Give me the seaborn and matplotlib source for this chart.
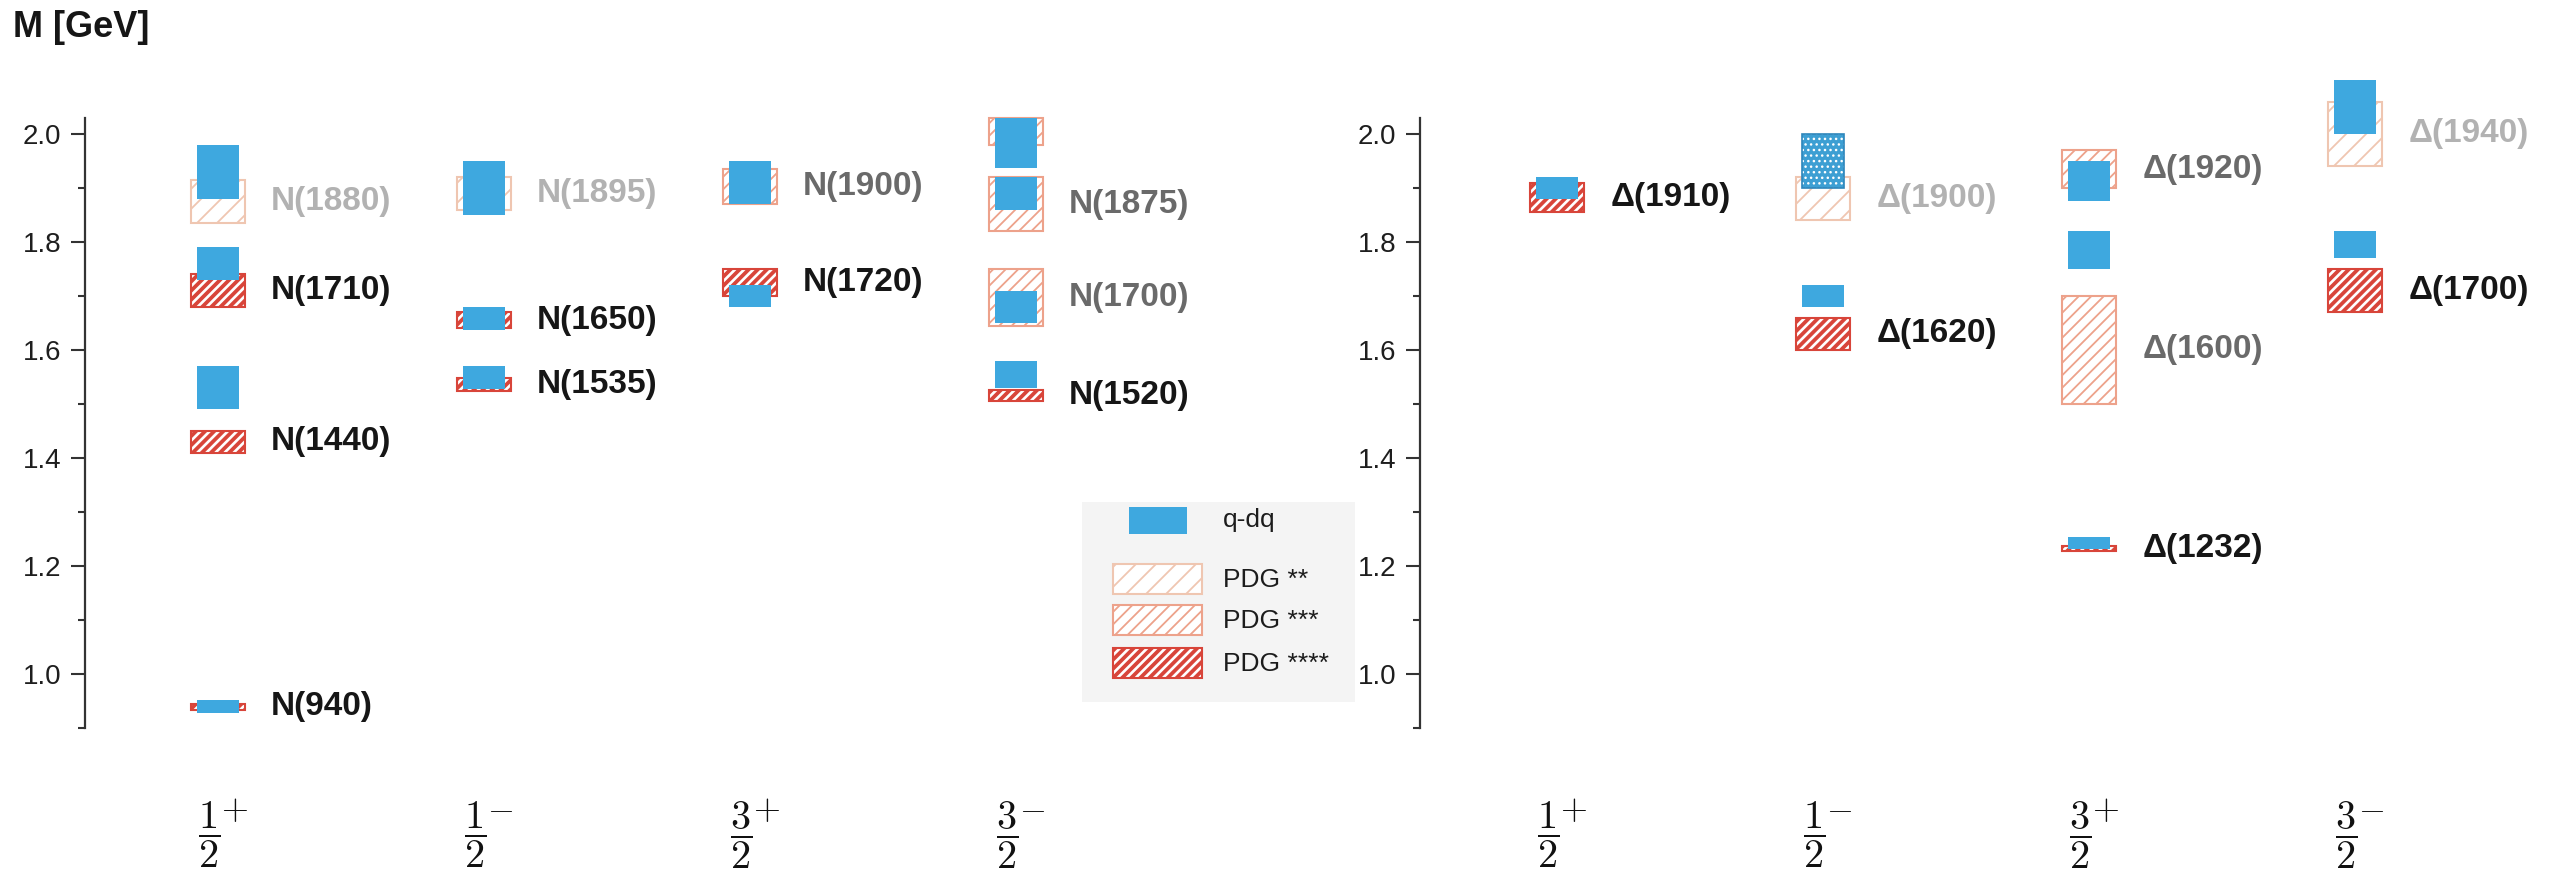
import numpy as np
import matplotlib
matplotlib.use("Agg")
import matplotlib.pyplot as plt
import matplotlib.transforms as mtrans
from matplotlib.patches import Rectangle
import seaborn as sns

# ---------------- data ----------------
spin_num = ["1", "1", "3", "3"]
spin_parity = ["+", "-", "+", "-"]
y_ticks = [1.0, 1.2, 1.4, 1.6, 1.8, 2.0]
y_minor = [0.9, 1.1, 1.3, 1.5, 1.7, 1.9]

# Nucleon panel: PDG ranges
N_pdg_name = ["N(940)", "N(1440)", "N(1710)", "N(1880)", "N(1535)", "N(1650)", "N(1895)",
              "N(1720)", "N(1900)", "N(1520)", "N(1700)", "N(1875)", ""]
N_pdg_col = [0, 0, 0, 0, 1, 1, 1, 2, 2, 3, 3, 3, 3]
N_pdg_low = [0.934, 1.410, 1.680, 1.835, 1.525, 1.640, 1.860, 1.700, 1.870, 1.505, 1.645, 1.820, 1.980]
N_pdg_high = [0.944, 1.450, 1.740, 1.915, 1.548, 1.670, 1.920, 1.750, 1.935, 1.525, 1.750, 1.920, 2.030]
N_pdg_stars = [4, 4, 4, 2, 4, 4, 2, 4, 3, 4, 3, 3, 3]
# Nucleon panel: quark-diquark results
N_qdq_col = [0, 0, 0, 0, 1, 1, 1, 2, 2, 3, 3, 3, 3]
N_qdq_low = [0.928, 1.490, 1.730, 1.880, 1.528, 1.637, 1.850, 1.680, 1.870, 1.530, 1.650, 1.860, 1.937]
N_qdq_high = [0.952, 1.570, 1.790, 1.980, 1.570, 1.680, 1.950, 1.720, 1.950, 1.580, 1.710, 1.920, 2.030]
N_qdq_dotted = [False] * 13

# Delta panel: PDG ranges
D_pdg_name = ["Δ(1910)", "Δ(1620)", "Δ(1900)", "Δ(1232)", "Δ(1600)", "Δ(1920)", "Δ(1700)", "Δ(1940)"]
D_pdg_col = [0, 1, 1, 2, 2, 2, 3, 3]
D_pdg_low = [1.855, 1.600, 1.840, 1.227, 1.500, 1.900, 1.670, 1.940]
D_pdg_high = [1.910, 1.660, 1.920, 1.237, 1.700, 1.970, 1.750, 2.060]
D_pdg_stars = [4, 4, 2, 4, 3, 3, 4, 2]
# Delta panel: quark-diquark results
D_qdq_col = [0, 1, 1, 2, 2, 2, 3, 3]
D_qdq_low = [1.880, 1.680, 1.900, 1.232, 1.750, 1.875, 1.770, 2.000]
D_qdq_high = [1.920, 1.720, 2.000, 1.254, 1.820, 1.950, 1.820, 2.100]
D_qdq_dotted = [False, False, True, False, False, False, False, False]

legend_labels = ["q-dq", "PDG **", "PDG ***", "PDG ****"]

# ---------------- style ----------------
DPI = 300
def P(v):  # sizes designed for 100 dpi -> points at DPI
    return v * 100.0 / DPI

sns.set_style("ticks")
plt.rcParams["font.family"] = ["Liberation Sans", "DejaVu Sans"]
plt.rcParams["mathtext.fontset"] = "cm"

BLUE = "#3ea8df"
BLUE_DOT = "#3d9fd3"
STAR_EDGE = {4: "#d8453a", 3: "#eda28b", 2: "#efc6b1"}
STAR_HATCH = {4: "/" * 11, 3: "/" * 8, 2: "/" * 5}
STAR_HLW = {4: P(2.7), 3: P(1.3), 2: P(1.3)}
STAR_TEXT = {4: "#161616", 3: "#6a6a6a", 2: "#b2b2b2"}
AX_COLOR = "#333333"
EDGE_LW = P(1.5)

W, H = 2575, 871
fig = plt.figure(figsize=(W / DPI, H / DPI), dpi=DPI)

PX_PER_UNIT = 266.0
YLIM = (0.9, 2.12)
y_bottom_px = 728.0
px_per_gev = 540.0
ax_h_px = (YLIM[1] - YLIM[0]) * px_per_gev


def make_axes(left_px, right_px, col0_px):
    ax = fig.add_axes([left_px / W, (H - y_bottom_px) / H, (right_px - left_px) / W, ax_h_px / H])
    x0 = -(col0_px - left_px) / PX_PER_UNIT
    ax.set_xlim(x0, x0 + (right_px - left_px) / PX_PER_UNIT)
    ax.set_ylim(*YLIM)
    ax.patch.set_alpha(0)
    return ax


def set_hlw(patches, lw):
    for p in patches:
        if hasattr(p, "set_hatch_linewidth"):
            p.set_hatch_linewidth(lw)
        else:
            p._hatch_linewidth = lw


def draw_panel(ax, pcol, plow, phigh, pstars, pname, qcol, qlow, qhigh, qdot):
    for c, lo, hi, st, nm in zip(pcol, plow, phigh, pstars, pname):
        with plt.rc_context({"hatch.linewidth": STAR_HLW[st]}):
            bars = ax.bar(c, hi - lo, bottom=lo, width=0.205, facecolor="white",
                          edgecolor=STAR_EDGE[st], hatch=STAR_HATCH[st], linewidth=EDGE_LW, zorder=2)
        set_hlw(bars, STAR_HLW[st])
        if nm:
            ax.text(c + 0.2, (lo + hi) / 2, nm, ha="left", va="center", fontsize=P(24),
                    fontweight="bold", color=STAR_TEXT[st], zorder=5)
    for c, lo, hi, dot in zip(qcol, qlow, qhigh, qdot):
        if dot:
            with plt.rc_context({"hatch.linewidth": P(1.0)}):
                bars = ax.bar(c, hi - lo, bottom=lo, width=0.16, facecolor=BLUE_DOT,
                              edgecolor="white", hatch="." * 9, linewidth=0, zorder=3)
            set_hlw(bars, P(1.0))
            ax.bar(c, hi - lo, bottom=lo, width=0.16, fill=False, edgecolor="#2e86bb",
                   linewidth=P(1.2), zorder=4)
        else:
            ax.bar(c, hi - lo, bottom=lo, width=0.158, color=BLUE, linewidth=0, zorder=3)

    sns.despine(ax=ax, top=True, right=True, bottom=True)
    ax.spines["left"].set_bounds(0.9, 2.03)
    ax.spines["left"].set_color(AX_COLOR)
    ax.spines["left"].set_linewidth(P(1.6))
    ax.set_yticks(y_ticks)
    ax.set_yticklabels([f"{v:.1f}" for v in y_ticks])
    ax.set_yticks(y_minor, minor=True)
    ax.tick_params(axis="y", which="major", direction="out", length=P(10), width=P(1.5),
                   color=AX_COLOR, labelsize=P(20), labelcolor="#1e1e1e", pad=P(7))
    ax.tick_params(axis="y", which="minor", direction="out", length=P(5), width=P(1.5), color=AX_COLOR)

    # spin-parity labels below each column: fraction as tick label, parity sign at its top right
    ax.set_xticks([i - 0.035 for i in range(len(spin_num))])
    ax.set_xticklabels([r"$\dfrac{%s}{2}$" % n for n in spin_num])
    ax.tick_params(axis="x", length=0, pad=71 * 72.0 / DPI, labelsize=P(29), labelcolor="#111111")
    trans = mtrans.blended_transform_factory(ax.transData, ax.transAxes)
    for i, s in enumerate(spin_parity):
        ax.text(i + 0.012, -81.0 / ax_h_px, r"$%s$" % s, transform=trans, ha="left", va="center",
                fontsize=P(25), color="#111111")
    ax.grid(False)


axN = make_axes(85, 1380, 218)
draw_panel(axN, N_pdg_col, N_pdg_low, N_pdg_high, N_pdg_stars, N_pdg_name,
           N_qdq_col, N_qdq_low, N_qdq_high, N_qdq_dotted)

axD = make_axes(1420, 2575, 1557)
draw_panel(axD, D_pdg_col, D_pdg_low, D_pdg_high, D_pdg_stars, D_pdg_name,
           D_qdq_col, D_qdq_low, D_qdq_high, D_qdq_dotted)

fig.text(13 / W, 1 - 10 / H, "M [GeV]", ha="left", va="top", fontsize=P(26), fontweight="bold",
         color="#161616")

# ---------------- legend (drawn in its own small axes) ----------------
lx0, ly0, lx1, ly1 = 1082, 502, 1355, 702
lax = fig.add_axes([lx0 / W, 1 - ly1 / H, (lx1 - lx0) / W, (ly1 - ly0) / H])
lax.set_facecolor("#f4f4f4")
lax.set_xlim(0, lx1 - lx0)
lax.set_ylim(ly1 - ly0, 0)
lax.set_xticks([])
lax.set_yticks([])
for s in lax.spines.values():
    s.set_visible(False)

lax.add_patch(Rectangle((47, 5), 58, 27, facecolor=BLUE, linewidth=0))
lax.text(141, 18, legend_labels[0], ha="left", va="center", fontsize=P(19), color="#1c1c1c")
for i, st in enumerate([2, 3, 4]):
    yc = [77, 118, 161][i]
    with plt.rc_context({"hatch.linewidth": STAR_HLW[st]}):
        r = Rectangle((31, yc - 15), 89, 30, facecolor="white", edgecolor=STAR_EDGE[st],
                      hatch=STAR_HATCH[st], linewidth=EDGE_LW)
    set_hlw([r], STAR_HLW[st])
    lax.add_patch(r)
    lax.text(141, yc + 1, legend_labels[i + 1], ha="left", va="center", fontsize=P(19), color="#1c1c1c")

fig.savefig("out.png", dpi=DPI, facecolor="white")
